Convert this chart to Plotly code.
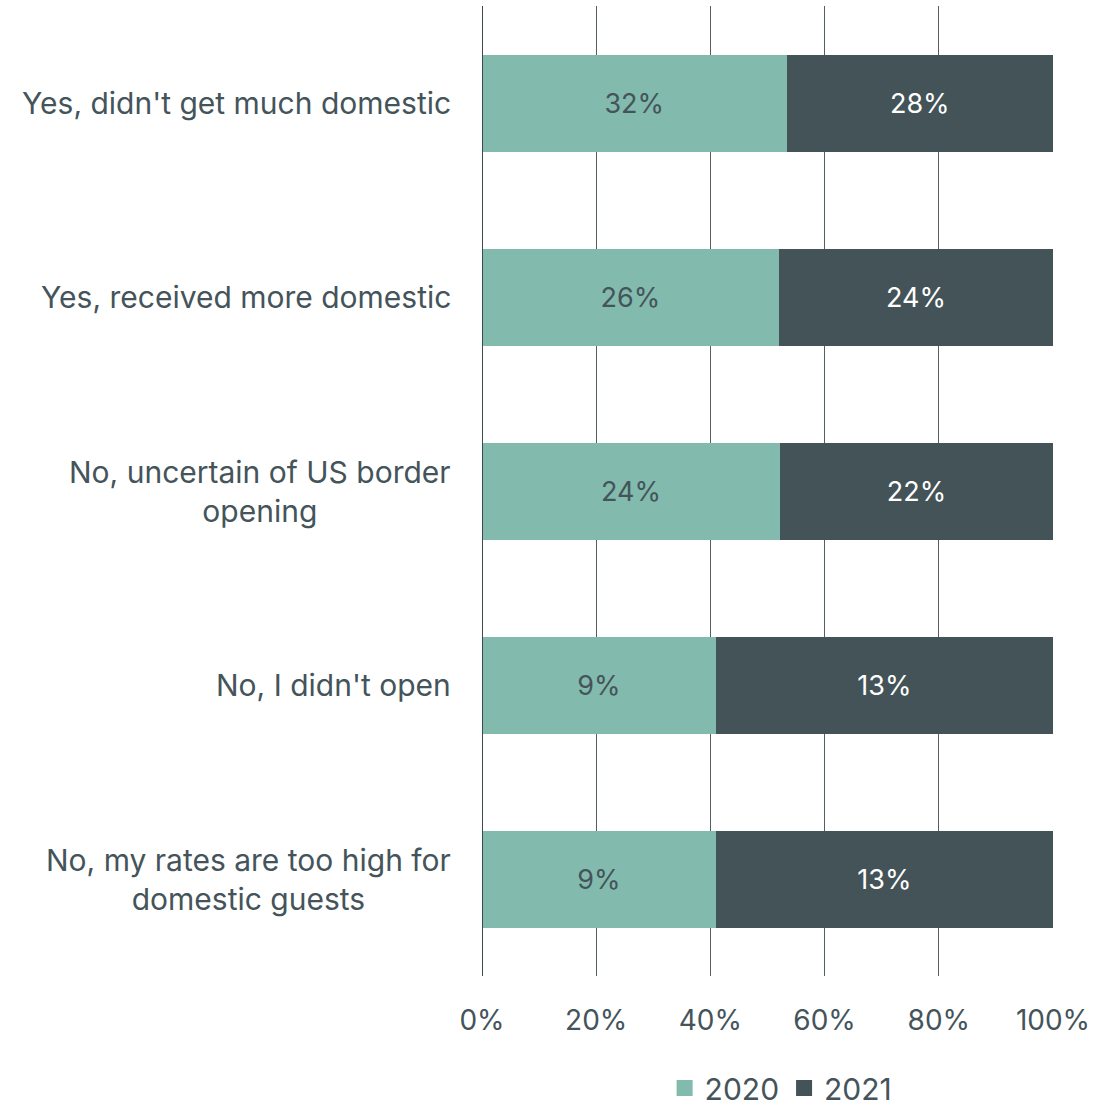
import plotly.graph_objects as go

categories = ["Yes, didn't get much domestic", "Yes, received more domestic",
              "No, uncertain of US border<br>opening", "No, I didn't open",
              "No, my rates are too high for<br>domestic guests"]
v2020 = [32, 26, 24, 9, 9]
v2021 = [28, 24, 22, 13, 13]
tick_vals = [0, 20, 40, 60, 80, 100]
tick_text = ["0%", "20%", "40%", "60%", "80%", "100%"]
series_names = ["2020", "2021"]

FONT = "Inter"
TXT = "#44545a"
C2020 = "#82bbad"
C2021 = "#435357"

ycats = list(range(len(categories)))

fig = go.Figure()
fig.add_trace(go.Bar(y=ycats, x=v2020, orientation="h", name=series_names[0],
                     marker=dict(color=C2020, line=dict(width=0)), showlegend=False,
                     text=[f"{v}%" for v in v2020], textposition="inside",
                     insidetextanchor="middle",
                     textfont=dict(color=TXT, size=27, family=FONT)))
fig.add_trace(go.Bar(y=ycats, x=v2021, orientation="h", name=series_names[1],
                     marker=dict(color=C2021, line=dict(width=0)), showlegend=False,
                     text=[f"{v}%" for v in v2021], textposition="inside",
                     insidetextanchor="middle",
                     textfont=dict(color="white", size=27, family=FONT)))
# legend entries with larger square swatches
for nm, col in zip(series_names, [C2020, C2021]):
    fig.add_trace(go.Scatter(x=[None], y=[None], mode="markers", name=nm,
                             marker=dict(symbol="square", size=20, color=col)))

for i, c in enumerate(categories):
    fig.add_annotation(x=0, y=i, xref="paper", yref="y", text=c, showarrow=False,
                       xanchor="right", yanchor="middle", align="center", xshift=-29,
                       font=dict(size=30, color=TXT, family=FONT))

fig.update_layout(
    barmode="stack", barnorm="percent", bargap=0.5,
    width=1094, height=1107,
    margin=dict(l=482, r=41, t=6, b=131, autoexpand=False),
    plot_bgcolor="white", paper_bgcolor="white",
    font=dict(family=FONT, color=TXT, size=27),
    showlegend=True,
    legend=dict(orientation="h", xref="container", yref="container",
                x=0.714, xanchor="center", y=19 / 1107, yanchor="middle",
                font=dict(size=30, color=TXT, family=FONT), traceorder="normal",
                itemsizing="trace", itemwidth=30, tracegroupgap=0),
    xaxis=dict(range=[0, 100], tickvals=tick_vals, ticktext=tick_text,
               showgrid=True, gridcolor="#555f63", gridwidth=1, zeroline=False,
               showline=False, ticks="", ticklabelstandoff=25, automargin=False,
               tickfont=dict(size=28, color=TXT, family=FONT)),
    yaxis=dict(range=[4.5, -0.5], showticklabels=False, showgrid=False,
               zeroline=False, showline=False, automargin=False),
    shapes=[dict(type="line", xref="x", yref="paper", x0=0, x1=0, y0=0, y1=1,
                 line=dict(color="#3e4a4e", width=2), layer="above")],
)

fig.write_html("out.html", config={"displayModeBar": False},
               post_script="document.body.style.margin='0';document.body.style.overflow='hidden';")
